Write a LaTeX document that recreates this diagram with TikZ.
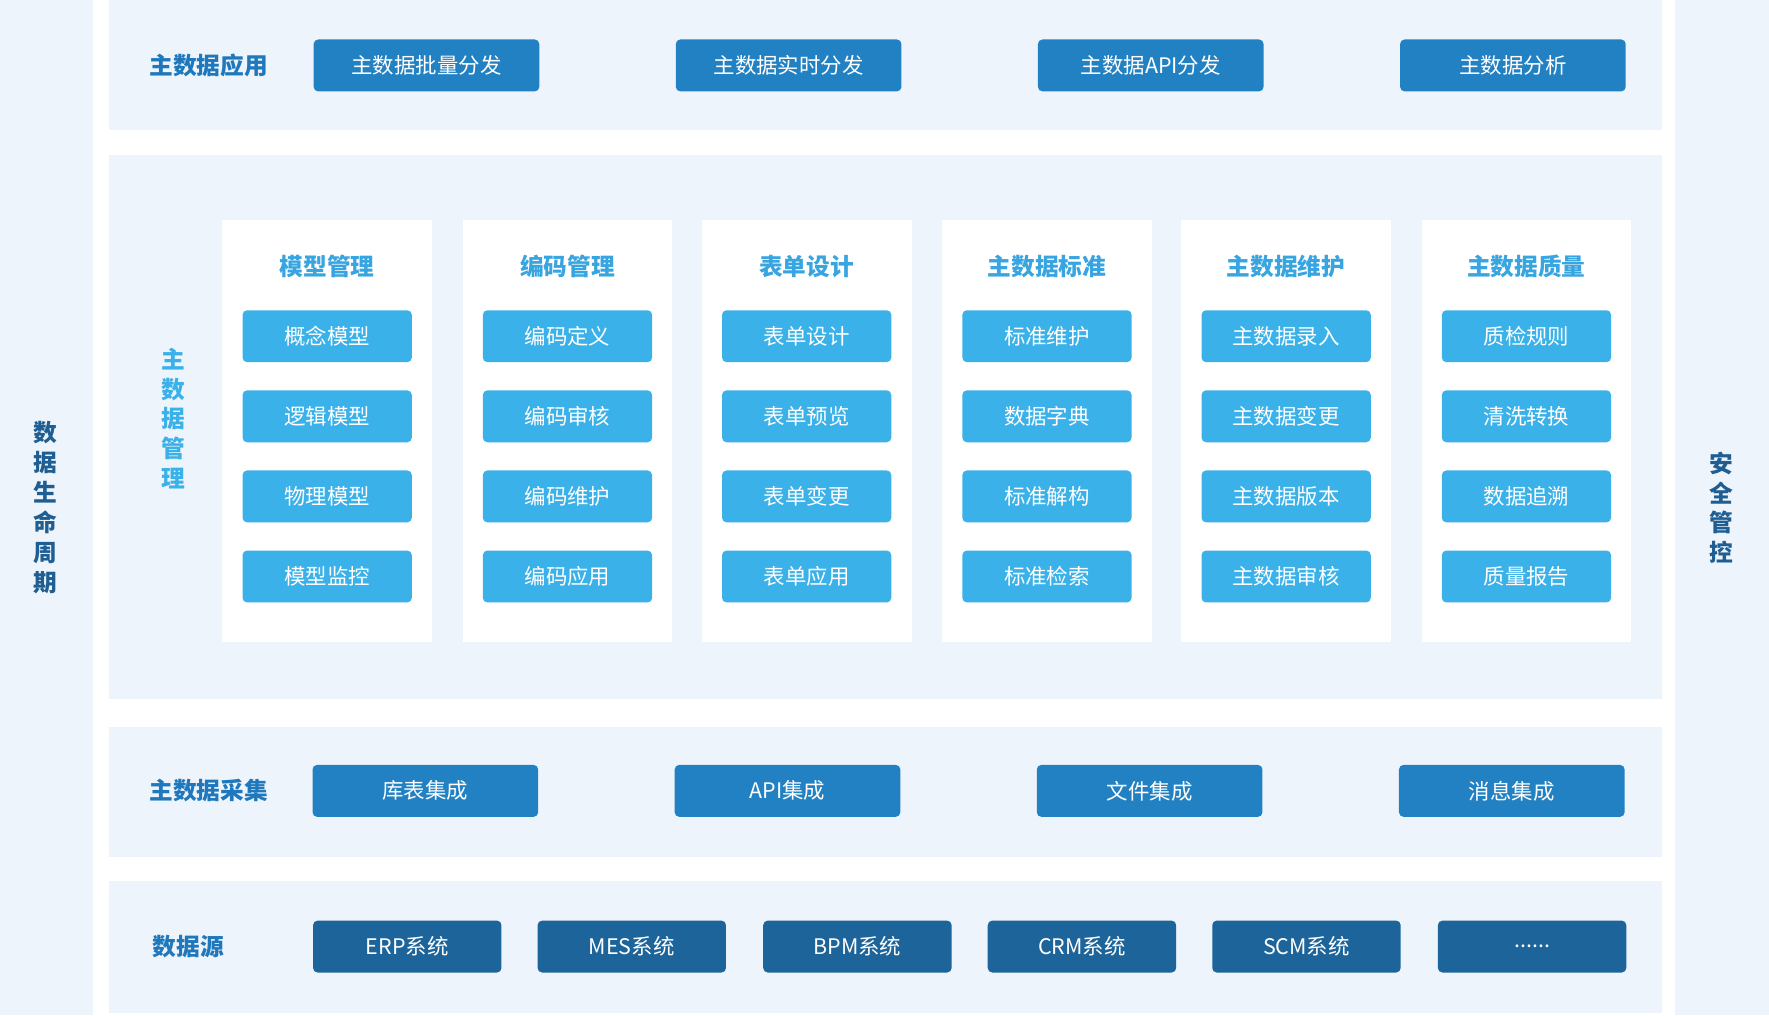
\documentclass[tikz,border=0pt]{standalone}
\usepackage{fontspec}
\setmainfont{Noto Sans CJK SC}
\newfontfamily\cjkb[BoldFont={* Bold}]{Noto Sans CJK SC}
\definecolor{bgl}{HTML}{EEF4FB}
\definecolor{dk}{HTML}{2181C2}
\definecolor{lt}{HTML}{3AB1E8}
\definecolor{src}{HTML}{1C6499}
\definecolor{ttl}{HTML}{1F78BC}
\definecolor{ctl}{HTML}{38A5E0}
\definecolor{side}{HTML}{1E5E92}
\begin{document}
\begin{tikzpicture}[x=1pt,y=-1pt,
 panel/.style={fill=bgl,draw=none},
 btn/.style={rounded corners=4pt,minimum width=200pt,minimum height=46pt,text=white,font=\fontsize{19}{22}\selectfont,inner sep=0pt},
 dbtn/.style={btn,fill=dk},
 lbtn/.style={btn,fill=lt,minimum width=150pt},
 sbtn/.style={btn,fill=src,minimum width=167pt},
 lbl/.style={text=ttl,font=\fontsize{21}{24}\selectfont\bfseries},
 ctitle/.style={text=ctl,font=\fontsize{21}{24}\selectfont\bfseries},
 vlab/.style={align=center,font=\fontsize{21}{26.5}\selectfont\bfseries}]
\useasboundingbox[fill=white] (0,0) rectangle (1568,900);
\fill[bgl] (0,0) rectangle (82,900);
\fill[bgl] (1485,0) rectangle (1568,900);
\fill[bgl] (97,0) rectangle (1473,115);
\fill[bgl] (97,137) rectangle (1473,620);
\fill[bgl] (97,644) rectangle (1473,760);
\fill[bgl] (97,781) rectangle (1473,898);
\node[vlab,text=side] (lc) at (40,450) {数\\据\\生\\命\\周\\期};
\node[vlab,text=side] (sc) at (1526,450) {安\\全\\管\\控};
% application
\node[lbl] (appl) at (185,58) {主数据应用};
\node[dbtn] (a1) at (378,58) {主数据批量分发};
\node[dbtn] (a2) at (699,58) {主数据实时分发};
\node[dbtn] (a3) at (1020,58) {主数据API分发};
\node[dbtn] (a4) at (1341,58) {主数据分析};
% management
\node[vlab,text=lt] (mgl) at (154,371) {主\\数\\据\\管\\理};
\foreach \cx/\t/\a/\b/\c/\d [count=\i] in {
 290/模型管理/概念模型/逻辑模型/物理模型/模型监控,
 503/编码管理/编码定义/编码审核/编码维护/编码应用,
 715/表单设计/表单设计/表单预览/表单变更/表单应用,
 928/主数据标准/标准维护/数据字典/标准解构/标准检索,
 1140/主数据维护/主数据录入/主数据变更/主数据版本/主数据审核,
 1353/主数据质量/质检规则/清洗转换/数据追溯/质量报告}{
 \fill[white] (\cx-93,195) rectangle (\cx+93,569);
 \node[ctitle] (t\i) at (\cx,236) {\t};
 \node[lbtn] (b\i1) at (\cx,298) {\a};
 \node[lbtn] (b\i2) at (\cx,369) {\b};
 \node[lbtn] (b\i3) at (\cx,440) {\c};
 \node[lbtn] (b\i4) at (\cx,511) {\d};
}
% collection
\node[lbl] (coll) at (185,701) {主数据采集};
\node[dbtn] (c1) at (377,701) {库表集成};
\node[dbtn] (c2) at (698,701) {API集成};
\node[dbtn] (c3) at (1019,701) {文件集成};
\node[dbtn] (c4) at (1340,701) {消息集成};
% sources
\node[lbl] (srcl) at (167,839) {数据源};
\node[sbtn] (s1) at (361,839) {ERP系统};
\node[sbtn] (s2) at (560,839) {MES系统};
\node[sbtn] (s3) at (760,839) {BPM系统};
\node[sbtn] (s4) at (959,839) {CRM系统};
\node[sbtn] (s5) at (1158,839) {SCM系统};
\node[sbtn] (s6) at (1358,839) {......};
\end{tikzpicture}
\end{document}
